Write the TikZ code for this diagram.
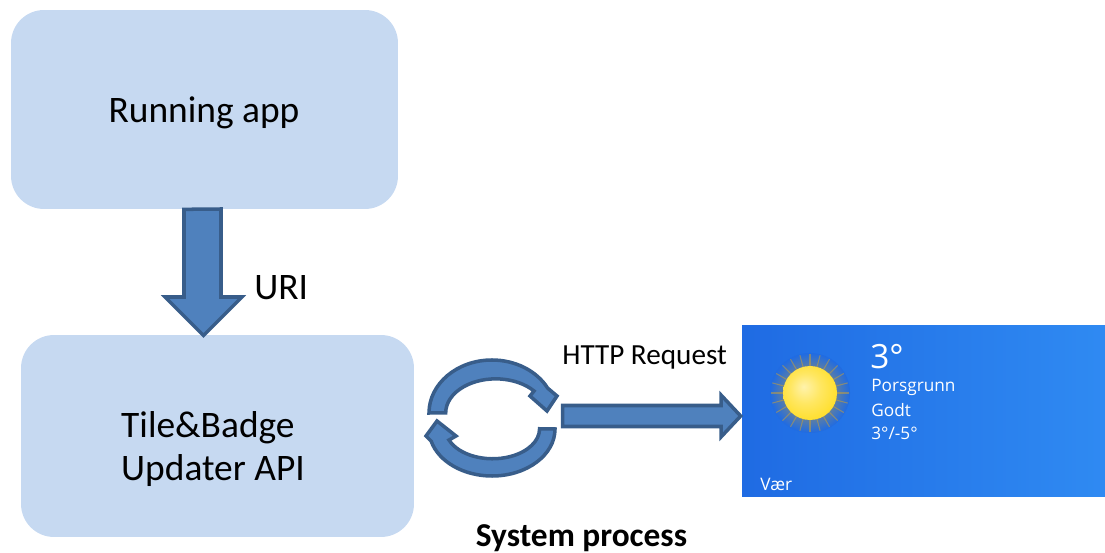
\documentclass[tikz,border=0pt]{standalone}
\usepackage{fontspec}
\setmainfont{Carlito}
\newfontfamily\tilefont{Open Sans}
\usetikzlibrary{positioning}
\definecolor{boxblue}{HTML}{C6D9F1}
\definecolor{arrowfill}{HTML}{4F81BD}
\definecolor{arrowline}{HTML}{385D8A}
\definecolor{tilea}{HTML}{1F6BE3}
\definecolor{tileb}{HTML}{2F8AF2}
\definecolor{sunrim}{HTML}{E39A00}
\definecolor{sunmid}{HTML}{FFDF2E}
\definecolor{sunglow}{HTML}{D2A32E}
\pgfdeclareradialshading{sunball}{\pgfpoint{-6bp}{6bp}}{color(0bp)=(white!60!sunmid); color(14bp)=(white!25!sunmid); color(28bp)=(sunmid); color(40bp)=(sunrim); color(50bp)=(sunrim)}
\tikzset{
  appbox/.style={draw=none, fill=boxblue, rounded corners=0.66cm, inner sep=0pt},
  boxtext/.style={align=left, inner sep=0pt, font=\fontsize{21.3}{24.4}\selectfont},
  blockarrow/.style={draw=arrowline, fill=arrowfill, line width=2pt, line join=miter},
  tiletext/.style={text=white, anchor=west, inner sep=0pt, font=\tilefont\fontsize{9.8}{11}\selectfont}
}
\begin{document}
\begin{tikzpicture}[x=0.02cm, y=-0.02cm]

\useasboundingbox (0,0) rectangle (1105,553);

% Boxes
\node[appbox, minimum width=7.74cm, minimum height=3.98cm] (app) at (204.5,109.5) {};
\node[appbox, minimum width=7.86cm, minimum height=4.04cm] (updater) at (217.5,436) {};
\node[boxtext] (apptext) at (204,113) {Running app};
\node[boxtext] (updatertext) at (213,449) {Tile\&Badge\\Updater API};

% Weather tile
\node[left color=tilea, right color=tileb, minimum width=7.26cm, minimum height=3.44cm, inner sep=0pt] (tile) at (923.5,411) {};

% Sun
\shade[inner color=sunglow, outer color=tilea] (810,393) circle (40);
\foreach \a in {0,15,...,345}
  \draw[sunglow, line width=0.6pt, opacity=0.5] (810,393) -- ++(\a:39);
\shade[shading=sunball] (810,393) circle (27);

% Tile text
\node[tiletext, font=\tilefont\fontsize{19}{22}\selectfont] (temp) at (870,357) {3°};
\node[tiletext] (city) at (871,387) {Porsgrunn};
\node[tiletext] (state) at (871,410) {Godt};
\node[tiletext] (range) at (871,433) {3°/-5°};
\node[tiletext] (name) at (760,484) {Vær};

% Down arrow
\draw[blockarrow] (app.south) ++(-20.5,0) -- (184,297) -- (165,297) -- (203.5,335.5) -- (242,297) -- (221,297) -- (221,209) -- cycle;
\node[font=\fontsize{21.3}{24}\selectfont, anchor=west, inner sep=0pt] (uri) at (254,288) {URI};

% Circular arrows
\draw[blockarrow] (429,413) arc[start angle=180, end angle=332, x radius=63, y radius=53] -- (557,396) -- (547,411) -- (530,396) -- (534,391) arc[start angle=-40, end angle=-180, x radius=50, y radius=34] -- cycle;
\draw[blockarrow] (555,429) arc[start angle=0, end angle=165, x radius=63, y radius=47] -- (426,436) -- (437,421) -- (456,436) -- (449,440) arc[start angle=158, end angle=0, x radius=47, y radius=30] -- cycle;

% Request arrow
\coordinate (reqstart) at (562.5,416);
\draw[blockarrow] (reqstart) ++(0,-10.5) -- (721,405.5) -- (721,395) -- ([xshift=-0.02cm]tile.west |- reqstart) -- (721,437) -- (721,426.5) -- (562.5,426.5) -- cycle;
\node[font=\fontsize{16.6}{20}\selectfont, anchor=west, inner sep=0pt] (http) at (562,357) {HTTP Request};
\node[font=\bfseries\fontsize{19}{23}\selectfont, inner sep=0pt] (system) at (581.5,538) {System process};

\end{tikzpicture}
\end{document}
